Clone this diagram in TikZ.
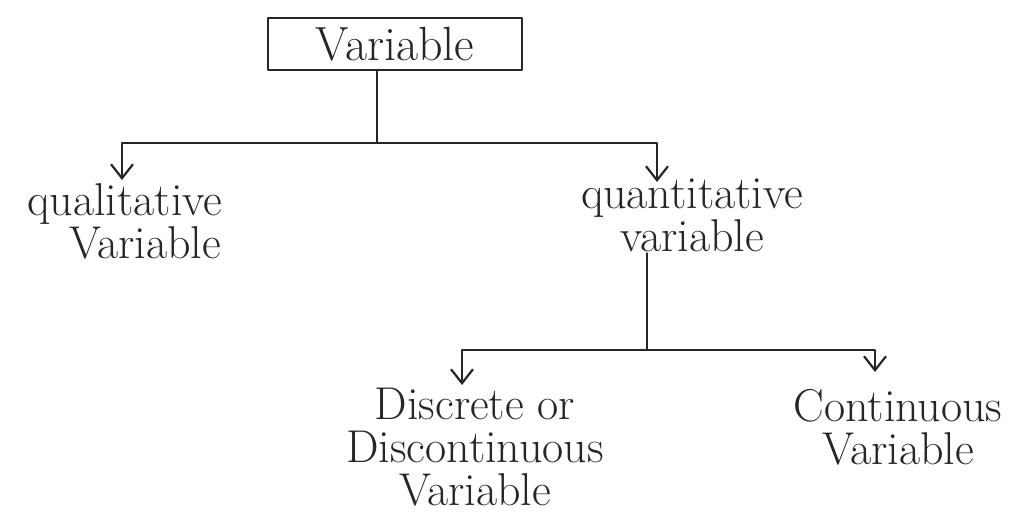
\documentclass[tikz,border=0pt]{standalone}
\usetikzlibrary{arrows.meta,calc}
\begin{document}
\begin{tikzpicture}[x=1pt,y=1pt,
  ink/.style={line width=2.4pt,draw=black!85,line cap=round,line join=round},
  arr/.style={ink,-{Straight Barb[length=14pt,width=22pt,line width=2.2pt]}},
  lbl/.style={font=\fontsize{46}{43}\selectfont,align=center,inner sep=1pt,text=black!85},
  rootbox/.style={ink,font=\fontsize{48}{44}\selectfont,minimum width=254pt,minimum height=52pt,inner sep=1pt,text=black!85}]
\useasboundingbox (0,0) rectangle (1016,529);
\node[rootbox] (root) at (395,485) {Variable};
\node[lbl,anchor=north] (qual) at (125,347) {qualitative\\\hspace*{40pt}Variable};
\node[lbl,anchor=north] (quant) at (692,351) {quantitative\\variable};
\node[lbl,anchor=north] (disc) at (475,142) {Discrete or\\Discontinuous\\Variable};
\node[lbl,anchor=north] (cont) at (898,141) {Continuous\\Variable};
\coordinate (j1) at (377,386);
\coordinate (j2) at (647,179);
\draw[ink] (root.south -| j1) -- (j1);
\draw[arr] (j1) -| ([xshift=-3pt,yshift=2pt]qual.north);
\draw[arr] (j1) -| ([xshift=-35pt,yshift=-4pt]quant.north);
\draw[ink] ([xshift=-45pt]quant.south) -- (j2);
\draw[arr] (j2) -| ([xshift=-13pt,yshift=2pt]disc.north);
\draw[arr] (j2) -| ([xshift=-23pt,yshift=16pt]cont.north);
\end{tikzpicture}
\end{document}
